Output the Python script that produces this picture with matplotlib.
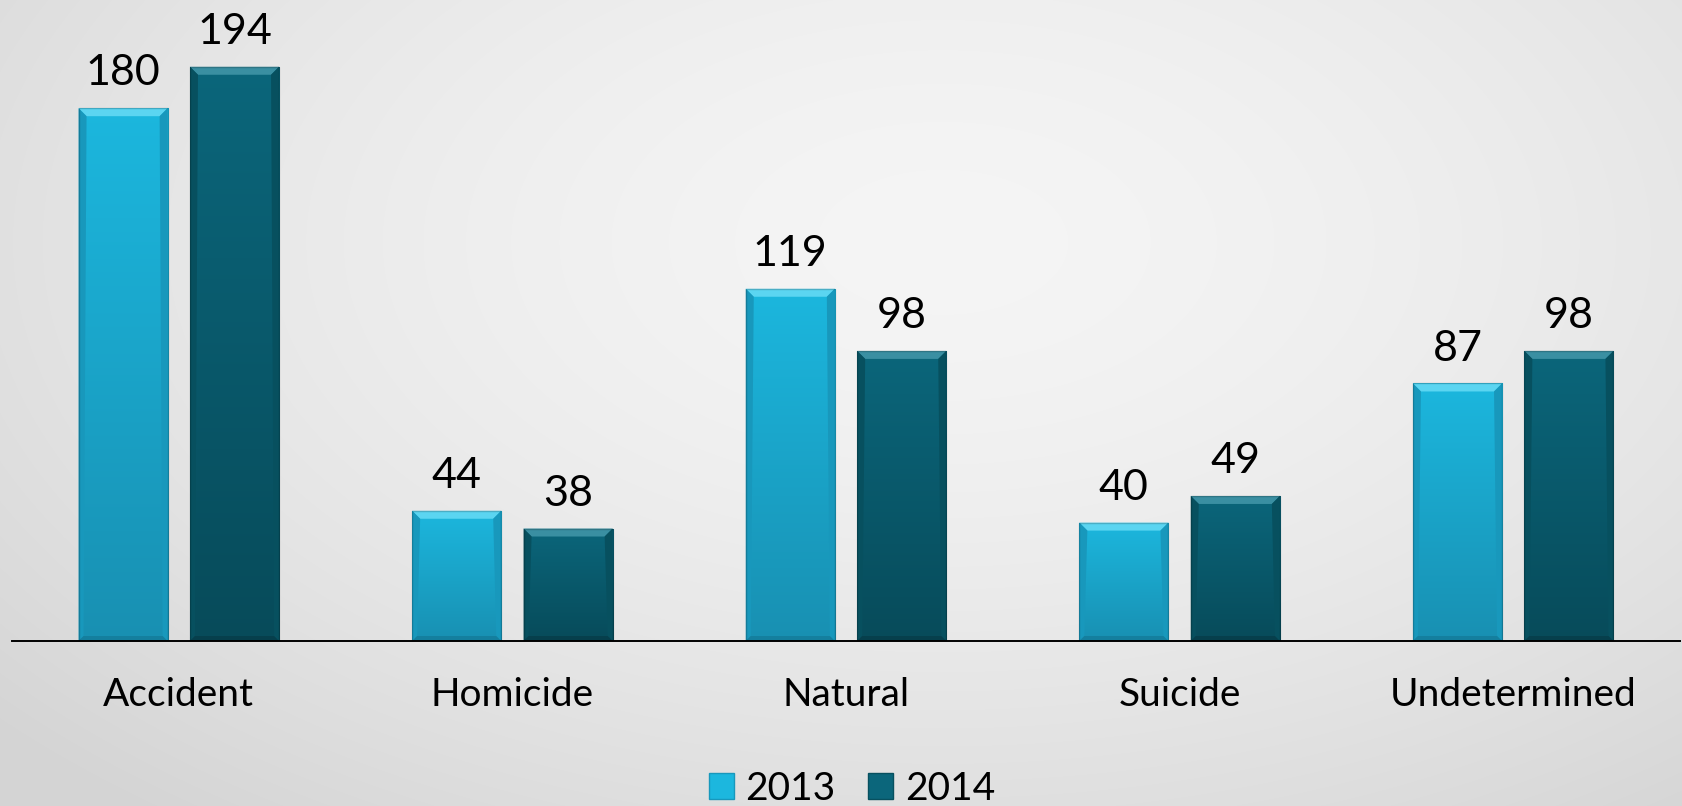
import numpy as np
import matplotlib
matplotlib.use("Agg")
import matplotlib.pyplot as plt
from matplotlib.patches import Polygon, Patch
from matplotlib.colors import LinearSegmentedColormap

categories = ["Accident", "Homicide", "Natural", "Suicide", "Undetermined"]
series_names = ["2013", "2014"]
values_2013 = [180, 44, 119, 40, 87]
values_2014 = [194, 38, 98, 49, 98]

plt.rcParams['font.family'] = ['Lato', 'DejaVu Sans']

W, H, DPI = 1683, 806, 100
fig = plt.figure(figsize=(W / DPI, H / DPI), dpi=DPI)

# background radial gradient
bg = fig.add_axes([0, 0, 1, 1], zorder=-10)
yy, xx = np.mgrid[0:H, 0:W]
cx, cy = 0.56 * W, 0.30 * H
r = np.sqrt(((xx - cx) / (0.62 * W)) ** 2 + ((yy - cy) / (0.75 * H)) ** 2)
r = np.clip(r, 0, 1.2)
light, dark = 0.960, 0.835
val = light - (light - dark) * (r / 1.2) ** 1.6
bg.imshow(np.dstack([val, val, val]), aspect='auto', extent=(0, 1, 0, 1), origin='upper')
bg.set_axis_off()

ymax = 210
ax_left, ax_w = 12 / W, 1668 / W
ax_bottom = (H - 641) / H
ax_h = ymax * 2.96 / H
ax = fig.add_axes([ax_left, ax_bottom, ax_w, ax_h])
ax.patch.set_alpha(0)
ax.set_xlim(-0.5, len(categories) - 0.5)
ax.set_ylim(0, ymax)
for s in ["top", "right", "left"]:
    ax.spines[s].set_visible(False)
ax.spines["bottom"].set_color("black")
ax.spines["bottom"].set_linewidth(1.4)
ax.spines["bottom"].set_zorder(5)
ax.spines["bottom"].set_bounds(-0.5, len(categories) - 0.5)
ax.set_yticks([])

x = np.arange(len(categories))
bw = 0.267
off = 0.167

styles = [
    dict(top="#1CB7DE", bottom="#1890B2", bevel_top="#5BD5F1", side="#1898BC", bot="#147F9E"),
    dict(top="#0B667B", bottom="#074B5A", bevel_top="#3A8FA2", side="#07505F", bot="#063F4C"),
]

px_x = ax_w * W / (len(categories))  # px per data unit x
px_y = ax_h * H / ymax               # px per data unit y

def shade(patch, st):
    x0, y0 = patch.get_x(), patch.get_y()
    w, h = patch.get_width(), patch.get_height()
    x1, y1 = x0 + w, y0 + h
    cmap = LinearSegmentedColormap.from_list("g", [st["bottom"], st["top"]])
    grad = np.linspace(0, 1, 256).reshape(-1, 1)
    im = ax.imshow(grad, cmap=cmap, aspect='auto', origin='lower',
                   extent=(x0, x1, y0, y1), zorder=2.5, interpolation='bilinear')
    im.set_clip_path(patch)
    bt = 8
    bs = 5
    dxs = bs / px_x
    dyt = bt / px_y
    dys = bs / px_y
    dxt = bt / px_x
    polys = [
        ([(x0, y1), (x1, y1), (x1 - dxt, y1 - dyt), (x0 + dxt, y1 - dyt)], st["bevel_top"]),
        ([(x0, y0), (x0, y1), (x0 + dxt, y1 - dyt), (x0 + dxs, y0 + dys)], st["side"]),
        ([(x1, y0), (x1, y1), (x1 - dxt, y1 - dyt), (x1 - dxs, y0 + dys)], st["side"]),
        ([(x0, y0), (x1, y0), (x1 - dxs, y0 + dys), (x0 + dxs, y0 + dys)], st["bot"]),
    ]
    for pts, c in polys:
        ax.add_patch(Polygon(pts, closed=True, facecolor=c, edgecolor='none', zorder=3))
    ax.add_patch(Polygon([(x0, y0), (x0, y1), (x1, y1), (x1, y0)], closed=True,
                         facecolor='none', edgecolor=(0, 0, 0, 0.18), linewidth=1.0, zorder=3.1))

for i, (vals, st) in enumerate(zip([values_2013, values_2014], styles)):
    bars = ax.bar(x + (i * 2 - 1) * off, vals, width=bw, color=st["top"], zorder=2,
                  label=series_names[i])
    for b, v in zip(bars, vals):
        shade(b, st)
        ax.annotate(str(v), (b.get_x() + b.get_width() / 2, b.get_height()),
                    xytext=(0, 16.5), textcoords='offset points', ha='center',
                    va='baseline', fontsize=31, color='black', annotation_clip=False)

ax.set_xticks(x)
ax.set_xticklabels(categories, fontsize=28)
ax.tick_params(axis='x', length=0, pad=26)

handles = [Patch(facecolor=styles[0]["top"], edgecolor=styles[0]["side"]),
           Patch(facecolor=styles[1]["top"], edgecolor=styles[1]["side"])]
fig.legend(handles, series_names, loc='center', bbox_to_anchor=(852 / W, 17 / H),
           ncol=2, frameon=False, fontsize=28, handlelength=0.64, handleheight=0.64,
           handletextpad=0.3, columnspacing=0.85, borderaxespad=0)

fig.savefig("out.png", dpi=DPI)
